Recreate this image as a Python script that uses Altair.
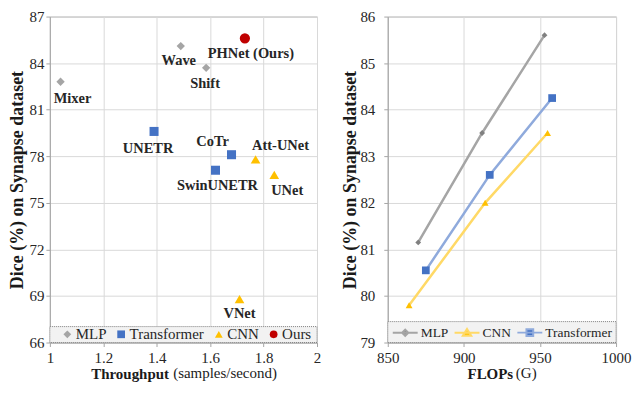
import altair as alt
import pandas as pd

# ---------------- data ----------------
# Left panel: Throughput vs Dice
names = ["Mixer", "Wave", "Shift", "UNETR", "CoTr", "SwinUNETR",
         "Att-UNet", "UNet", "VNet", "PHNet (Ours)"]
groups = ["MLP", "MLP", "MLP", "Transformer", "Transformer", "Transformer",
          "CNN", "CNN", "CNN", "Ours"]
throughput = [1.04, 1.49, 1.585, 1.39, 1.68, 1.62, 1.77, 1.84, 1.71, 1.73]
dice_left = [82.8, 85.1, 83.7, 79.6, 78.1, 77.1, 77.8, 76.8, 68.8, 85.6]

# Right panel: FLOPs vs Dice
series_names = ["MLP", "CNN", "Transformer"]
flops_mlp = [870, 912, 953]
dice_mlp = [81.15, 83.5, 85.6]
flops_cnn = [864, 914, 955]
dice_cnn = [79.8, 82.0, 83.5]
flops_tr = [875, 917, 958]
dice_tr = [80.55, 82.6, 84.25]

x_ticks_left = [1, 1.2, 1.4, 1.6, 1.8, 2]
y_ticks_left = [66, 69, 72, 75, 78, 81, 84, 87]
x_ticks_right = [850, 900, 950, 1000]
y_ticks_right = [79, 80, 81, 82, 83, 84, 85, 86]

# ---------------- styles ----------------
FONT = "Liberation Serif"
W1, W2, H = 268, 229, 327

group_order = ["MLP", "Transformer", "CNN", "Ours"]
group_colors = ["#A5A5A5", "#4472C4", "#FFC000", "#C00000"]
group_shapes = ["diamond", "square", "triangle-up", "circle"]
group_sizes = [70, 106, 106, 196]

label_offsets = {
    "Mixer": (12, 17), "Wave": (-2, 15), "Shift": (-1, 16), "UNETR": (-6, 18),
    "CoTr": (-19, -13), "SwinUNETR": (2, 16), "Att-UNet": (25, -13),
    "UNet": (13, 16), "VNet": (0, 15), "PHNet (Ours)": (6, 16),
}

line_colors = ["#A5A5A5", "#FFD966", "#8FAADC"]
marker_colors = ["#808080", "#FFC000", "#4472C4"]
marker_shapes = ["diamond", "triangle-up", "square"]
marker_sizes = [34, 60, 70]
legend_paths = [
    "M-1,0L1,0M0,-0.25L0.25,0L0,0.25L-0.25,0Z",
    "M-1,0L1,0M0,-0.3L0.34,0.25L-0.34,0.25Z",
    "M-1,0L1,0M-0.27,-0.27L0.27,-0.27L0.27,0.27L-0.27,0.27Z",
]

# ---------------- left chart ----------------
left_df = pd.DataFrame({"name": names, "group": groups,
                        "throughput": throughput, "dice": dice_left})
one = pd.DataFrame({"k": [0]})

xl = alt.X("throughput:Q",
           scale=alt.Scale(domain=[1, 2], nice=False, zero=False),
           axis=alt.Axis(values=x_ticks_left, format="~g", title="Throughput",
                         titleFontWeight="bold", titleFontSize=15,
                         titleAlign="left", titleBaseline="alphabetic",
                         titleX=41, titleY=36, labelPadding=4, labelFlush=False))
yl = alt.Y("dice:Q",
           scale=alt.Scale(domain=[66, 87], nice=False, zero=False),
           axis=alt.Axis(values=y_ticks_left, title="Dice (%) on Synapse dataset",
                         titleFontSize=18, titleFontWeight="bold",
                         titlePadding=2, labelPadding=2))

box_left = alt.Chart(one).mark_rect(
    fill="#F2F2F2", stroke="#7F7F7F", strokeDash=[1, 1], strokeWidth=1
).encode(x=alt.value(0), x2=alt.value(W1), y=alt.value(H - 16), y2=alt.value(H))

points_left = alt.Chart(left_df).mark_point(filled=True, opacity=1, strokeWidth=0).encode(
    x=xl, y=yl,
    color=alt.Color("group:N", scale=alt.Scale(domain=group_order, range=group_colors),
                    legend=None),
    shape=alt.Shape("group:N", scale=alt.Scale(domain=group_order, range=group_shapes),
                    legend=None),
    size=alt.Size("group:N", scale=alt.Scale(domain=group_order, range=group_sizes),
                  legend=None),
)

leg_left = alt.Legend(orient="none", legendX=10, legendY=H - 16, direction="horizontal",
                      columns=4, title=None, padding=0, labelFont=FONT,
                      labelFontSize=15, labelColor="#262626", symbolSize=60,
                      labelOffset=1, columnPadding=7, symbolStrokeWidth=0)

legend_left_only = alt.Chart(left_df).transform_filter("false").mark_point(
    filled=True, opacity=1, size=60, strokeWidth=0
).encode(
    x=xl, y=yl,
    color=alt.Color("group:N", scale=alt.Scale(domain=group_order, range=group_colors),
                    legend=leg_left),
    shape=alt.Shape("group:N", scale=alt.Scale(domain=group_order, range=group_shapes),
                    legend=leg_left),
)

label_layers = []
for n in names:
    dx, dy = label_offsets[n]
    label_layers.append(
        alt.Chart(left_df).mark_text(
            dx=dx, dy=dy, font=FONT, fontSize=14.5, fontWeight="bold",
            color="#262626", baseline="middle", align="center"
        ).encode(x=xl, y=yl, text="name:N").transform_filter(alt.datum.name == n)
    )

sub_left = alt.Chart(one).mark_text(
    font=FONT, fontSize=15, align="left", baseline="alphabetic", color="#1a1a1a"
).encode(x=alt.value(123.7), y=alt.value(H + 36), text=alt.value("(samples/second)"))

left = alt.layer(box_left, points_left, legend_left_only, *label_layers, sub_left
                 ).resolve_scale(color="independent", shape="independent",
                                 size="independent"
                 ).properties(width=W1, height=H)

# ---------------- right chart ----------------
right_df = pd.DataFrame({
    "series": ["MLP"] * 3 + ["CNN"] * 3 + ["Transformer"] * 3,
    "flops": flops_mlp + flops_cnn + flops_tr,
    "dice": dice_mlp + dice_cnn + dice_tr,
})

xr = alt.X("flops:Q", scale=alt.Scale(domain=[850, 1000], nice=False, zero=False),
           axis=alt.Axis(values=x_ticks_right, format="d", title="FLOPs",
                         titleFontWeight="bold", titleFontSize=15,
                         titleAlign="left", titleBaseline="alphabetic",
                         titleX=79.5, titleY=36, labelPadding=4, labelFlush=False))
yr = alt.Y("dice:Q", scale=alt.Scale(domain=[79, 86], nice=False, zero=False),
           axis=alt.Axis(values=y_ticks_right, title="Dice (%) on Synapse dataset",
                         titleFontSize=18, titleFontWeight="bold",
                         titlePadding=0, labelPadding=9))

box_right = alt.Chart(one).mark_rect(
    fill="#F2F2F2", stroke="#7F7F7F", strokeDash=[1, 1], strokeWidth=1
).encode(x=alt.value(0), x2=alt.value(W2), y=alt.value(H - 21), y2=alt.value(H))

lines = alt.Chart(right_df).mark_line(strokeWidth=2.5).encode(
    x=xr, y=yr,
    stroke=alt.Stroke("series:N", scale=alt.Scale(domain=series_names, range=line_colors),
                      legend=None),
)

markers = alt.Chart(right_df).mark_point(filled=True, opacity=1, strokeWidth=0).encode(
    x=xr, y=yr,
    fill=alt.Fill("series:N", scale=alt.Scale(domain=series_names, range=marker_colors),
                  legend=None),
    shape=alt.Shape("series:N", scale=alt.Scale(domain=series_names, range=marker_shapes),
                    legend=None),
    size=alt.Size("series:N", scale=alt.Scale(domain=series_names, range=marker_sizes),
                  legend=None),
)

leg_right = alt.Legend(orient="none", legendX=4, legendY=H - 23.5, direction="horizontal",
                       columns=3, title=None, padding=0, labelFont=FONT,
                       labelFontSize=13.5, labelColor="#262626", symbolSize=625,
                       labelOffset=2, columnPadding=2, symbolStrokeWidth=2)

legend_only = alt.Chart(right_df).transform_filter("false").mark_point(
    filled=True, opacity=1, size=625, strokeWidth=2
).encode(
    x=xr, y=yr,
    fill=alt.Fill("series:N", scale=alt.Scale(domain=series_names, range=marker_colors),
                  legend=leg_right),
    stroke=alt.Stroke("series:N", scale=alt.Scale(domain=series_names, range=line_colors),
                      legend=leg_right),
    shape=alt.Shape("series:N", scale=alt.Scale(domain=series_names, range=legend_paths),
                    legend=leg_right),
)

sub_right = alt.Chart(one).mark_text(
    font=FONT, fontSize=15, align="left", baseline="alphabetic", color="#1a1a1a"
).encode(x=alt.value(128.5), y=alt.value(H + 36), text=alt.value("(G)"))

right = alt.layer(box_right, lines, markers, legend_only, sub_right).resolve_scale(
    fill="independent", stroke="independent", shape="independent", size="independent"
).properties(width=W2, height=H)

chart = alt.hconcat(left, right, spacing=19).properties(
    padding={"left": 0, "top": 0, "right": 0, "bottom": 0}
).configure_axis(
    labelFont=FONT, labelFontSize=15, labelColor="#262626",
    titleFont=FONT, titleColor="#1a1a1a",
    gridColor="#D9D9D9", gridWidth=1,
    domainColor="#A6A6A6", tickColor="#A6A6A6", tickSize=4,
).configure_view(stroke="#A6A6A6", strokeWidth=1)

chart.save("out.html", embed_options={"renderer": "svg", "actions": False})
